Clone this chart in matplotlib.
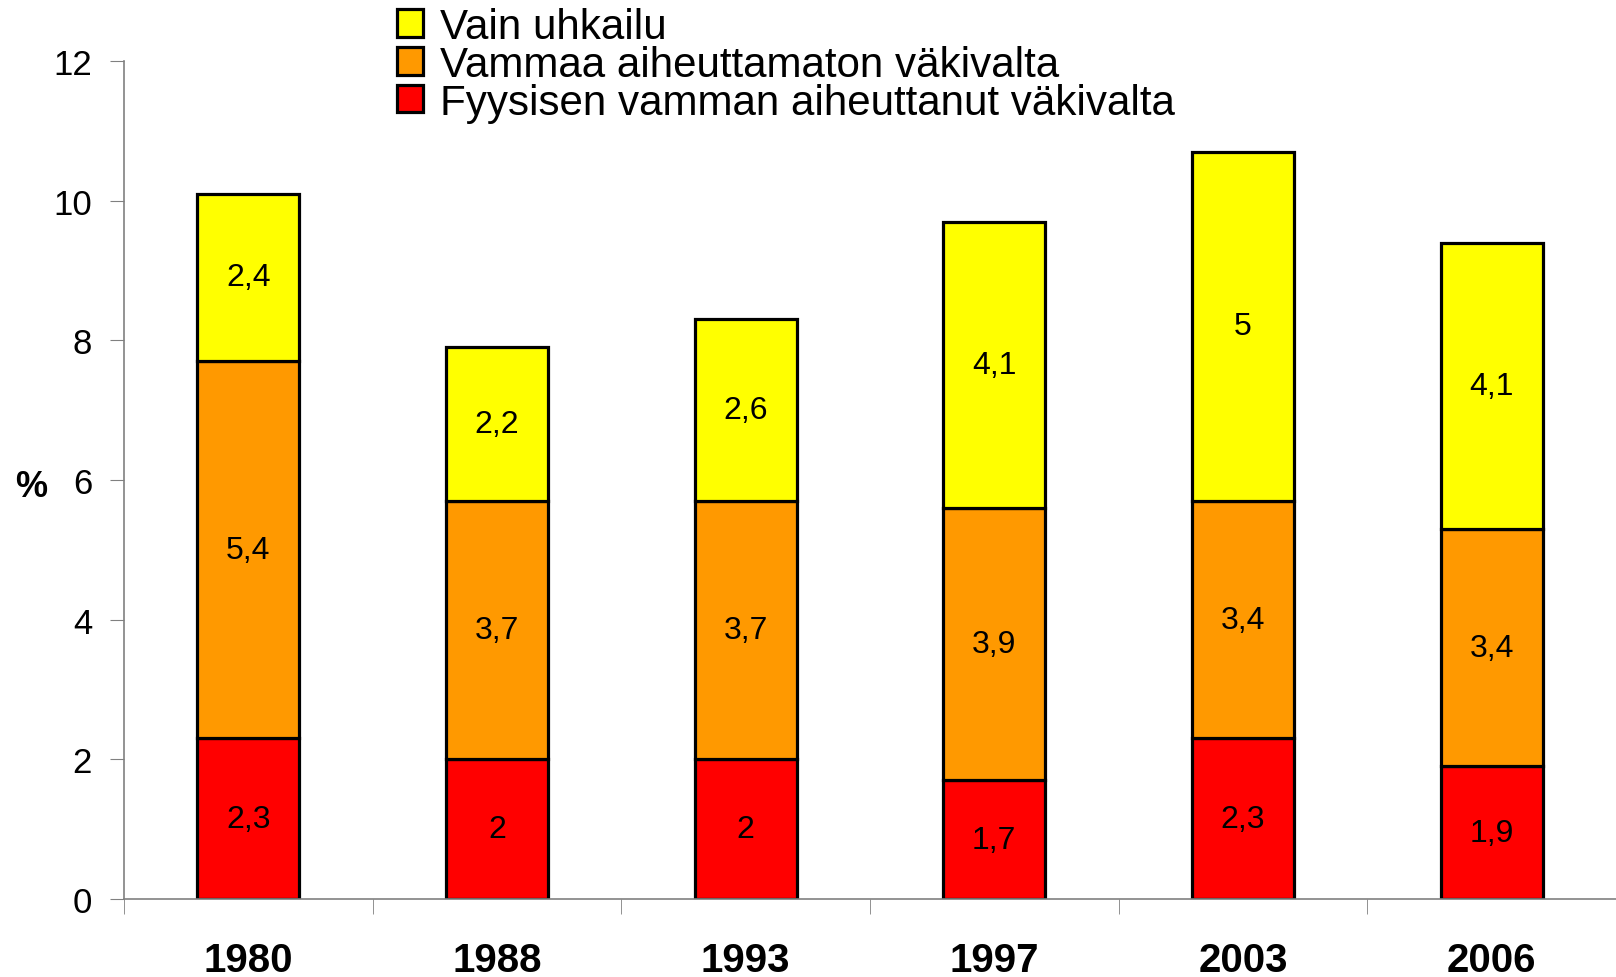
import matplotlib
matplotlib.use('Agg')
import matplotlib.pyplot as plt
import numpy as np

plt.rcParams['font.family'] = ['Liberation Sans', 'DejaVu Sans']

# Tiedot
vuodet = ['1980', '1988', '1993', '1997', '2003', '2006']
fyysinen = [2.3, 2, 2, 1.7, 2.3, 1.9]
vammaton = [5.4, 3.7, 3.7, 3.9, 3.4, 3.4]
uhkailu = [2.4, 2.2, 2.6, 4.1, 5, 4.1]

sarjat = [
    ('Fyysisen vamman aiheuttanut väkivalta', fyysinen, '#FF0000'),
    ('Vammaa aiheuttamaton väkivalta', vammaton, '#FF9900'),
    ('Vain uhkailu', uhkailu, '#FFFF00'),
]

fig = plt.figure(figsize=(16.16, 9.78), dpi=100)
ax = fig.add_axes([0.0767, 0.0798, 0.9233, 0.8568])

x = np.arange(len(vuodet))
pohja = np.zeros(len(vuodet))
palkit = []
for nimi, arvot, vari in sarjat:
    b = ax.bar(x, arvot, width=0.41, bottom=pohja, color=vari,
               edgecolor='black', linewidth=2.3, label=nimi)
    palkit.append(b)
    for xi, yi, v in zip(x, pohja, arvot):
        teksti = ('%g' % v).replace('.', ',')
        ax.text(xi, yi + v / 2, teksti, ha='center', va='center', fontsize=23)
    pohja = pohja + np.array(arvot)

ax.set_xlim(-0.5, 5.5)
ax.set_ylim(0, 12)
ax.set_yticks(range(0, 13, 2))
ax.tick_params(axis='y', labelsize=25, length=10, color='#808080', pad=13)

ax.set_xticks(x)
ax.set_xticklabels(vuodet, fontsize=29, fontweight='bold')
ax.set_xticks(np.arange(-0.5, 6, 1), minor=True)
ax.tick_params(axis='x', which='major', length=0, pad=30)
ax.tick_params(axis='x', which='minor', length=11, color='#808080')

for s in ['top', 'right']:
    ax.spines[s].set_visible(False)
for s in ['left', 'bottom']:
    ax.spines[s].set_color('#808080')
    ax.spines[s].set_linewidth(1.2)

fig.text(0.019, 0.502, '%', fontsize=26, fontweight='bold', ha='center', va='center')

kahvat = palkit[::-1]
nimet = [s[0] for s in sarjat][::-1]
fig.legend(kahvat, nimet, loc='upper left', bbox_to_anchor=(0.2455, 0.992),
           frameon=False, fontsize=30.3, labelspacing=-0.05, handlelength=0.62,
           handleheight=0.62, handletextpad=0.4, borderaxespad=0, borderpad=0)

plt.savefig('out.png', dpi=100)
